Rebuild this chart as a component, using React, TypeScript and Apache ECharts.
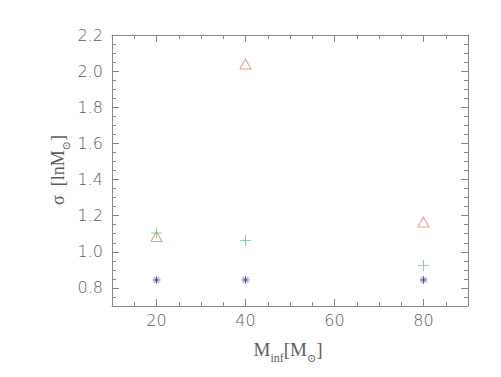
import React, { useEffect, useRef } from "react";
import * as echarts from "echarts";

const xValues = [20, 40, 80];
const triangleValues = [1.085, 2.04, 1.165];
const plusValues = [1.104, 1.062, 0.925];
const starValues = [0.844, 0.844, 0.844];
const xMajor = [20, 40, 60, 80];
const yMajor = [0.8, 1.0, 1.2, 1.4, 1.6, 1.8, 2.0, 2.2];

const AXIS = "#888888";
const LABEL = "#5e5e5e";

export default function App() {
  const ref = useRef<HTMLDivElement>(null);
  useEffect(() => {
    if (!ref.current) return;
    const chart = echarts.init(ref.current, null, { renderer: "svg" });
    const line = { show: true, lineStyle: { color: AXIS, width: 1 } };
    const labelStyle = {
      color: LABEL,
      fontFamily: "DejaVu Sans",
      fontWeight: 200 as any,
      fontSize: 16,
    };
    const xMajorAxis = (pos: string, labels: boolean) => ({
      type: "value",
      position: pos,
      min: 10,
      max: 90,
      axisLine: line,
      axisTick: { show: true, inside: true, length: 7, customValues: xMajor, lineStyle: { color: AXIS } },
      axisLabel: labels
        ? { show: true, customValues: xMajor, margin: 6, ...labelStyle }
        : { show: false },
      splitLine: { show: false },
    });
    const xMinorAxis = (pos: string) => ({
      type: "value",
      position: pos,
      min: 10,
      max: 90,
      interval: 5,
      axisLine: { show: false },
      axisTick: { show: true, inside: true, length: 4, lineStyle: { color: AXIS } },
      axisLabel: { show: false },
      splitLine: { show: false },
    });
    const yMajorAxis = (pos: string, labels: boolean) => ({
      type: "value",
      position: pos,
      min: 0.7,
      max: 2.2,
      axisLine: line,
      axisTick: { show: true, inside: true, length: 7, customValues: yMajor, lineStyle: { color: AXIS } },
      axisLabel: labels
        ? {
            show: true,
            customValues: yMajor,
            margin: 9,
            formatter: (v: number) => v.toFixed(1),
            ...labelStyle,
          }
        : { show: false },
      splitLine: { show: false },
    });
    const yMinorAxis = (pos: string) => ({
      type: "value",
      position: pos,
      min: 0.7,
      max: 2.2,
      interval: 0.05,
      axisLine: { show: false },
      axisTick: { show: true, inside: true, length: 4, lineStyle: { color: AXIS } },
      axisLabel: { show: false },
      splitLine: { show: false },
    });

    const mk = (ys: number[]) => xValues.map((x, i) => [x, ys[i]]);

    chart.setOption({
      animation: false,
      grid: { left: 112, right: 33, top: 35, bottom: 71 },
      xAxis: [xMajorAxis("bottom", true), xMinorAxis("bottom"), xMajorAxis("top", false), xMinorAxis("top")],
      yAxis: [yMajorAxis("left", true), yMinorAxis("left"), yMajorAxis("right", false), yMinorAxis("right")],
      series: [
        {
          type: "scatter",
          data: mk(triangleValues),
          symbol: "triangle",
          symbolSize: [11, 10],
          itemStyle: { color: "none", borderColor: "#f08070", borderWidth: 1 },
        },
        {
          type: "scatter",
          data: mk(plusValues),
          symbol: "path://M0,5L10,5M5,0L5,10",
          symbolSize: 11,
          itemStyle: { color: "none", borderColor: "#6cc98c", borderWidth: 1 },
        },
        {
          type: "scatter",
          data: mk(starValues),
          symbol: "path://M5,0L5,10M0,5L10,5M1.5,1.5L8.5,8.5M1.5,8.5L8.5,1.5",
          symbolSize: 8,
          itemStyle: { color: "none", borderColor: "#2a3a8a", borderWidth: 1 },
        },
      ],
      graphic: [
        {
          type: "text",
          x: 288,
          y: 349,
          style: {
            text: "{m|M}{s|inf}{m|[M}{o|⊙}{m|]}",
            align: "center",
            verticalAlign: "middle",
            fill: LABEL,
            rich: {
              m: { fontFamily: "Liberation Serif", fontSize: 19, fill: LABEL, lineHeight: 30, verticalAlign: "middle" },
              s: { fontFamily: "Liberation Serif", fontSize: 12, fill: LABEL, lineHeight: 12, verticalAlign: "bottom" },
              o: { fontFamily: "DejaVu Serif", fontSize: 11, fill: LABEL, lineHeight: 12, verticalAlign: "bottom" },
            },
          },
        },
        {
          type: "text",
          x: 58,
          y: 170,
          rotation: Math.PI / 2,
          style: {
            text: "{m|σ  [lnM}{o|⊙}{m|]}",
            align: "center",
            verticalAlign: "middle",
            fill: LABEL,
            rich: {
              m: { fontFamily: "Liberation Serif", fontSize: 18, fill: LABEL, lineHeight: 28, verticalAlign: "middle" },
              o: { fontFamily: "DejaVu Serif", fontSize: 11, fill: LABEL, lineHeight: 12, verticalAlign: "bottom" },
            },
          },
        },
      ],
    });
    return () => chart.dispose();
  }, []);
  return <div ref={ref} style={{ width: 501, height: 377, position: "absolute", left: 0, top: 0 }} />;
}
